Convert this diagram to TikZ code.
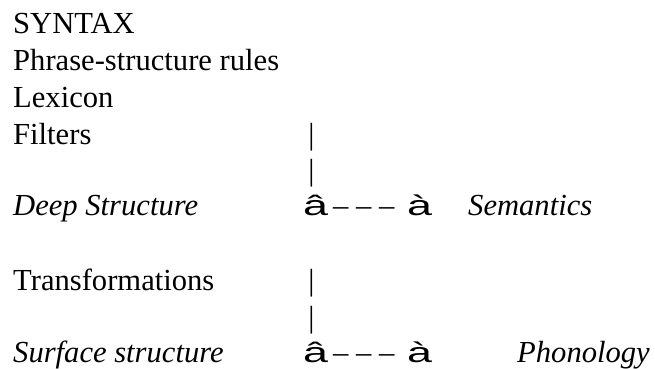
\documentclass[tikz,border=0pt]{standalone}
\usepackage{fontspec}
\setmainfont{Liberation Serif}
\newfontfamily\arrowfont{Liberation Sans}
\begin{document}
\begin{tikzpicture}[x=1pt,y=-1pt,
  txt/.style={anchor=base west,inner sep=0pt,font=\fontsize{30.6}{37}\selectfont},
  itxt/.style={txt,font=\fontsize{30.6}{37}\selectfont\itshape},
  bar/.style={anchor=base,inner sep=0pt,font=\fontsize{30.6}{37}\selectfont},
  arr/.style={anchor=base west,inner sep=0pt,font=\fontsize{28}{34}\selectfont\arrowfont}]
\useasboundingbox (0,0) rectangle (655,368);
\node[txt] (syn) at (13,33) {SYNTAX};
\node[txt] (psr) at (13,70) {Phrase-structure rules};
\node[txt] (lex) at (13,107) {Lexicon};
\node[txt] (fil) at (13,144) {Filters};
\node[bar] (b1) at (311.5,144) {|};
\node[bar] (b2) at (311.5,180) {|};
\node[itxt] (deep) at (13,215) {Deep Structure};
\node[arr] (a1) at (303,215) {\scalebox{1.6}[1]{â}};
\node[txt] (d1) at (333,215) {– – –};
\node[arr] (a2) at (407,215) {\scalebox{1.6}[1]{à}};
\node[itxt] (sem) at (468,215) {Semantics};
\node[txt] (tra) at (13,290) {Transformations};
\node[bar] (b3) at (311.5,290) {|};
\node[bar] (b4) at (311.5,327) {|};
\node[itxt] (sur) at (13,362) {Surface structure};
\node[arr] (a3) at (303,362) {\scalebox{1.6}[1]{â}};
\node[txt] (d2) at (333,362) {– – –};
\node[arr] (a4) at (407,362) {\scalebox{1.6}[1]{à}};
\node[itxt] (pho) at (517,362) {Phonology};
\end{tikzpicture}
\end{document}
